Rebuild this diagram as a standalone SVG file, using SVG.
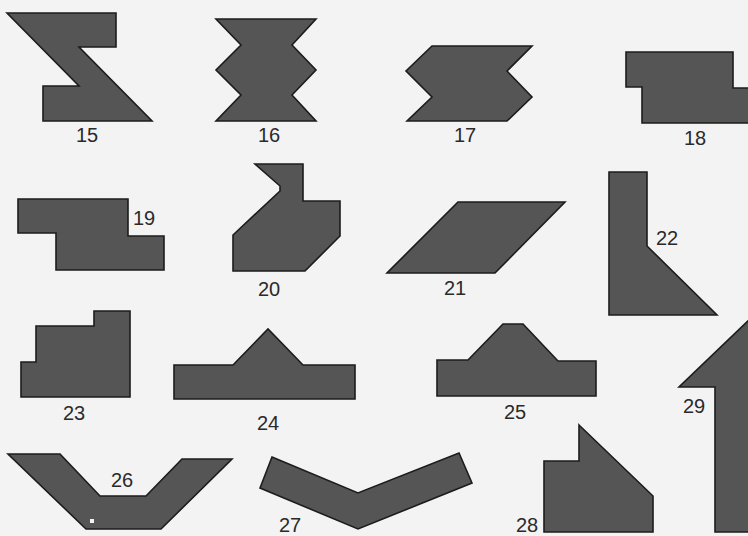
<svg xmlns="http://www.w3.org/2000/svg" width="748" height="536" viewBox="0 0 748 536">
<style>
.s{fill:#555555;stroke:#1c1c1c;stroke-width:1.6;stroke-linejoin:miter}
.t{font-family:"Liberation Sans",Arial,sans-serif;font-size:20px;fill:#2a2a2a;text-anchor:middle}
</style>
<rect width="748" height="536" fill="#f3f3f3"/>
<g id="shape15"><polygon class="s" points="7,13 116,13 116,47 79,47 152,121 43,121 43,86 79,86"/><text class="t" x="87" y="142">15</text></g>
<g id="shape16"><polygon class="s" points="216,19 316,19 292,45 316,70 292,95 316,121 216,121 241,95 216,70 241,45"/><text class="t" x="269" y="142">16</text></g>
<g id="shape17"><polygon class="s" points="432,46 532,46 507,71 532,97 507,121 407,121 432,97 406,71"/><text class="t" x="465" y="142">17</text></g>
<g id="shape18"><polygon class="s" points="626,52 733,52 733,88 749,88 749,123 642,123 642,87 626,87"/><text class="t" x="695" y="145">18</text></g>
<g id="shape19"><polygon class="s" points="18,199 128,199 128,236 164,236 164,270 56,270 56,233 18,233"/><text class="t" x="144" y="225">19</text></g>
<g id="shape20"><polygon class="s" points="255,164 303,164 303,201 340,201 340,236 305,271 233,271 233,235 280,191 280,186"/><text class="t" x="269" y="296">20</text></g>
<g id="shape21"><polygon class="s" points="458,202 565,202 495,273 387,273"/><text class="t" x="455" y="295">21</text></g>
<g id="shape22"><polygon class="s" points="609,172 647,172 647,246 717,315 609,315"/><text class="t" x="667" y="245">22</text></g>
<g id="shape23"><polygon class="s" points="94,311 130,311 130,397 21,397 21,362 36,362 36,326 94,326"/><text class="t" x="74" y="420">23</text></g>
<g id="shape24"><polygon class="s" points="174,365 233,365 268,329 303,365 355,365 355,399 174,399"/><text class="t" x="268" y="430">24</text></g>
<g id="shape25"><polygon class="s" points="437,360 468,360 503,324 523,324 558,361 596,361 596,396 437,396"/><text class="t" x="515" y="419">25</text></g>
<g id="shape26"><polygon class="s" points="8,454 60,454 100,496 146,496 182,459 232,459 161,529 86,529"/><rect x="90" y="519" width="4" height="4" fill="#f3f3f3"/><text class="t" x="122" y="487">26</text></g>
<g id="shape27"><polygon class="s" points="272,457 358,493 459,453 472,483 358,529 260,488"/><text class="t" x="290" y="532">27</text></g>
<g id="shape28"><polygon class="s" points="579,425 653,496 653,532 544,532 544,461 579,461"/><text class="t" x="527" y="532">28</text></g>
<g id="shape29"><polygon class="s" points="749,320 679,387 715,387 715,532 749,532"/><text class="t" x="694" y="413">29</text></g>
</svg>
